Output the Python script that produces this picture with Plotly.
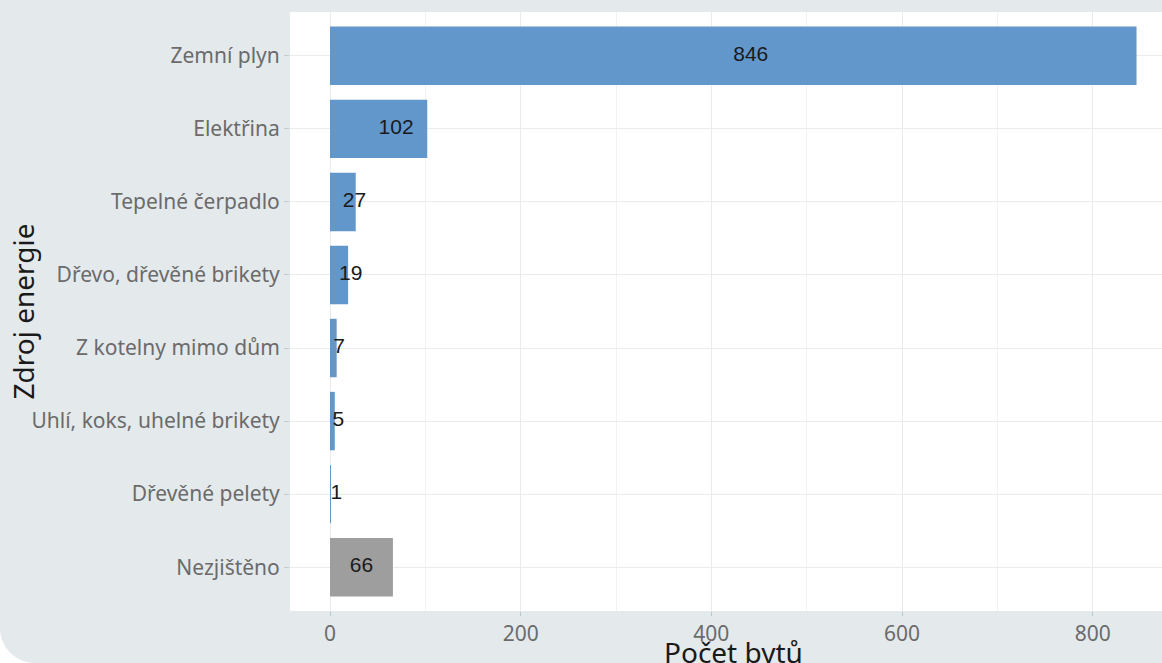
import plotly.graph_objects as go

categories = ["Zemní plyn", "Elektřina", "Tepelné čerpadlo", "Dřevo, dřevěné brikety",
              "Z kotelny mimo dům", "Uhlí, koks, uhelné brikety", "Dřevěné pelety", "Nezjištěno"]
counts = [846, 102, 27, 19, 7, 5, 1, 66]
is_unknown = [False, False, False, False, False, False, False, True]
x_ticks = [0, 200, 400, 600, 800]
x_minor = [100, 300, 500, 700]
x_title = "Počet bytů"
y_title = "Zdroj energie"

BLUE = "#6297cc"
GREY = "#9e9e9e"
BG = "#e4e9ec"

W, H = 1162, 663
ML, MR, MT, MB = 290, 0, 12, 52

colors = [GREY if u else BLUE for u in is_unknown]

fig = go.Figure()
fig.add_trace(go.Bar(
    y=categories, x=counts, orientation="h", width=0.8,
    marker=dict(color=colors, line=dict(width=0)),
    hoverinfo="x+y", showlegend=False,
))

known_c = [c for c, u in zip(categories, is_unknown) if not u]
known_v = [v for v, u in zip(counts, is_unknown) if not u]
unk_c = [c for c, u in zip(categories, is_unknown) if u]
unk_v = [v for v, u in zip(counts, is_unknown) if u]

lab_font = dict(family="Liberation Sans, Arial, sans-serif", size=21, color="#1a1a1a")
fig.add_trace(go.Scatter(
    y=known_c, x=[v / 2 for v in known_v], mode="text",
    text=[str(v) for v in known_v], textposition="middle right",
    textfont=lab_font, showlegend=False, hoverinfo="skip", cliponaxis=False,
))
fig.add_trace(go.Scatter(
    y=unk_c, x=[v / 2 for v in unk_v], mode="text",
    text=[str(v) for v in unk_v], textposition="middle center",
    textfont=lab_font, showlegend=False, hoverinfo="skip", cliponaxis=False,
))

px_per_unit = 0.95335
x_lo = (ML - 330) / px_per_unit
x_hi = (W - 330) / px_per_unit

tick_font = dict(family="Noto Sans, sans-serif", size=21, color="#6b6b6b")
title_font = dict(family="Noto Sans, sans-serif", size=28, color="#1a1a1a")

fig.update_layout(
    width=W, height=H,
    margin=dict(l=ML, r=MR, t=MT, b=MB, pad=0),
    paper_bgcolor=BG, plot_bgcolor="white",
    xaxis=dict(
        range=[x_lo, x_hi], tickvals=x_ticks,
        tickfont=tick_font, showgrid=True, gridcolor="#ebebeb", gridwidth=1,
        minor=dict(tickvals=x_minor, showgrid=True, gridcolor="#f2f2f2", gridwidth=1),
        ticks="outside", ticklen=4, tickcolor="#b8c6d0", zeroline=False,
        showline=False,
    ),
    yaxis=dict(
        categoryorder="array", categoryarray=categories,
        range=[len(categories) - 0.4, -0.6],
        tickfont=tick_font, showgrid=True, gridcolor="#ebebeb", gridwidth=1,
        ticks="outside", ticklen=5, tickcolor="#c8c8c8", zeroline=False,
        showline=False,
    ),
)

pw = W - ML - MR
ph = H - MT - MB
def px2paper(x, y):
    return (x - ML) / pw, (H - MB - y) / ph

# axis titles (the original plot panel is wider than the visible frame)
tx, ty = px2paper(733.5, 652)
fig.add_annotation(text=x_title, xref="paper", yref="paper", x=tx, y=ty,
                   xanchor="center", yanchor="middle", showarrow=False, font=title_font)
tx2, ty2 = px2paper(22, 311.5)
fig.add_annotation(text=y_title, xref="paper", yref="paper", x=tx2, y=ty2, textangle=-90,
                   xanchor="center", yanchor="middle", showarrow=False, font=title_font)

# rounded bottom-left corner of the card
R = 35
cx0, cy0 = px2paper(0, H - R)
cx1, cy1 = px2paper(R, H)
kx, ky = px2paper(0, H - R + 0.552 * R)
kx2, ky2 = px2paper(R - 0.552 * R, H)
cxb, cyb = px2paper(-2, H + 2)
path = (f"M {cx0},{cy0} C {kx},{ky} {kx2},{ky2} {cx1},{cy1} "
        f"L {cxb},{cyb} L {cxb},{cy0} Z")
fig.add_shape(type="path", xref="paper", yref="paper", path=path,
              fillcolor="white", line=dict(width=0), layer="above")

fig.write_html("out.html")
